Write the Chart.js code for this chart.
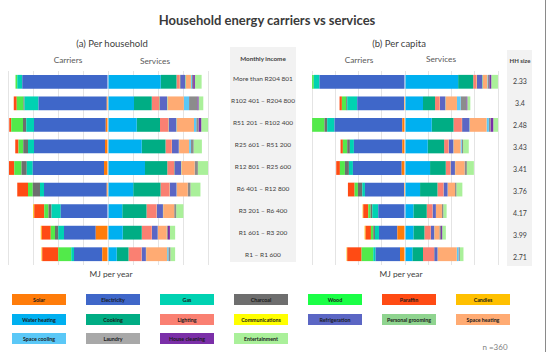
<!DOCTYPE html>
<html>
<head>
<meta charset="utf-8">
<script src="https://cdn.jsdelivr.net/npm/chart.js@4"></script>
<style>
  html, body { margin:0; padding:0; background:#fff; }
  #wrap { position:relative; width:550px; height:356px; overflow:hidden; font-family:Lato, "Open Sans", sans-serif; color:#404040; }
  .t { position:absolute; white-space:nowrap; transform:translate(-50%,-50%); }
  canvas { position:absolute; }
  .box { position:absolute; background:#f2f2f2; }
  .leg { position:absolute; width:54px; height:11px; font-size:5.3px; font-weight:bold; color:#1a1a1a; display:flex; align-items:center; justify-content:center; white-space:nowrap; }
</style>
</head>
<body>
<div id="wrap">
  <div class="t" style="left:267px;top:20px;font-size:13px;font-weight:bold;color:#3a3a3a;">Household energy carriers vs services</div>
  <div class="t" style="left:112px;top:43px;font-size:9.5px;">(a) Per household</div>
  <div class="t" style="left:399px;top:43px;font-size:9.5px;">(b) Per capita</div>
  <div class="t" style="left:68px;top:60px;font-size:8.3px;color:#595959;">Carriers</div>
  <div class="t" style="left:155px;top:61px;font-size:8.3px;color:#595959;">Services</div>
  <div class="t" style="left:359px;top:60px;font-size:8.3px;color:#595959;">Carriers</div>
  <div class="t" style="left:441px;top:59px;font-size:8.3px;color:#595959;">Services</div>
  <div class="box" style="left:230px;top:47px;width:66px;height:215px;"></div>
  <div class="box" style="left:507px;top:50px;width:25px;height:216px;"></div>
  <div class="t" style="left:263px;top:58px;font-size:6.3px;font-weight:bold;">Monthly income</div>
  <div class="t" style="left:520px;top:60px;font-size:6px;font-weight:bold;">HH size</div>
  <div class="t" style="left:111px;top:274px;font-size:8.3px;color:#404040;">MJ per year</div>
  <div class="t" style="left:401px;top:274px;font-size:8.3px;color:#404040;">MJ per year</div>
  <div class="t" style="left:495px;top:347px;font-size:8px;color:#7f7f7f;">n =360</div>
  <div style="position:absolute;left:545px;top:0;width:1px;height:352px;background:#8a8a8a;"></div>
  <div id="incomeCol"></div>
  <div id="hhCol"></div>
  <div id="legend"></div>
  <canvas id="c1" width="204" height="194" style="left:6px;top:71px;width:204px;height:194px;"></canvas>
  <canvas id="c2" width="190" height="194" style="left:310px;top:71px;width:190px;height:194px;"></canvas>
</div>
<script>
// ---- categories ----
const incomeGroups = ["More than R204 801","R102 401 \u2013 R204 800","R51 201 \u2013 R102 400","R25 601 \u2013 R51 200","R12 801 \u2013 R25 600","R6 401 \u2013 R12 800","R3 201 \u2013 R6 400","R1 601 \u2013 R3 200","R1 \u2013 R1 600"];
const hhSize = ["2.33","3.4","2.48","3.43","3.41","3.76","4.17","3.99","2.71"];

const carrierNames = ["Solar","Electricity","Gas","Charcoal","Wood","Paraffin","Candles"];
const carrierColors = ["#ff7c0a","#3f67c9","#00d2b2","#6e6e6e","#52ea4a","#ff4b14","#ffc000"];
const serviceNames = ["Water heating","Cooking","Lighting","Communications","Refrigeration","Personal grooming","Space heating","Space cooling","Laundry","House cleaning","Entertainment"];
const serviceColors = ["#00b0f0","#00ad84","#fa8072","#ffff00","#5b66c4","#8fd48f","#ffab73","#5bc8f7","#8c8c8c","#7b2fa8","#aaf09a"];

// ---- (a) per household, MJ per year ----
const hhSolar       = [0, 500, 900, 1200, 1600, 500, 0, 4900, 2300];
const hhElectricity = [34300, 27300, 28700, 28400, 28500, 25100, 18900, 12700, 11300];
const hhGas         = [2000, 5600, 3100, 2400, 2400, 1600, 3700, 2300, 1100];
const hhCharcoal    = [0, 400, 1300, 1900, 2100, 2900, 1200, 1300, 0];
const hhWood        = [700, 2700, 4700, 1900, 2900, 1900, 1700, 1700, 5200];
const hhParaffin    = [0, 1200, 800, 1300, 2100, 4300, 4000, 3600, 6400];
const hhCandles     = [0, 0, 0, 0, 0, 0, 400, 400, 300];

const hhWaterHeating  = [21100, 10400, 11500, 13500, 14800, 10100, 5700, 5900, 3500];
const hhCooking       = [6300, 7100, 9300, 9500, 8900, 10900, 9700, 7600, 4700];
const hhLighting      = [1300, 2900, 3300, 2500, 2700, 3600, 4000, 4000, 5200];
const hhCommunications= [150, 120, 100, 100, 90, 80, 70, 60, 50];
const hhRefrigeration = [2000, 3100, 3100, 2700, 2700, 2700, 2500, 2300, 1700];
const hhGrooming      = [300, 200, 200, 150, 150, 100, 100, 100, 100];
const hhSpaceHeating  = [2000, 6500, 6900, 4000, 5300, 4400, 4400, 3500, 8400];
const hhSpaceCooling  = [400, 2100, 900, 700, 0, 0, 0, 0, 500];
const hhLaundry       = [500, 3300, 900, 1100, 1300, 1100, 800, 500, 800];
const hhCleaning      = [700, 500, 1100, 0, 0, 0, 0, 800, 0];
const hhEntertainment = [2700, 1900, 2700, 3300, 4300, 4000, 2900, 2100, 1900];

// ---- (b) per capita, MJ per year ----
const pcSolar       = [0, 170, 460, 460, 570, 170, 0, 1320, 860];
const pcElectricity = [14710, 8050, 11670, 8330, 8390, 6720, 4600, 3160, 4200];
const pcGas         = [980, 1720, 1260, 690, 690, 460, 1030, 690, 400];
const pcCharcoal    = [0, 170, 460, 460, 690, 750, 290, 290, 0];
const pcWood        = [290, 750, 2130, 750, 860, 570, 400, 400, 2010];
const pcParaffin    = [0, 400, 290, 400, 630, 1150, 860, 920, 2470];
const pcCandles     = [0, 0, 0, 0, 0, 0, 110, 170, 110];

const pcWaterHeating  = [9140, 3100, 4600, 3910, 4310, 2590, 1440, 1440, 1260];
const pcCooking       = [2590, 2070, 3740, 2820, 2700, 2990, 2300, 1900, 1840];
const pcLighting      = [570, 800, 1440, 750, 800, 1030, 980, 1090, 1900];
const pcCommunications= [60, 40, 40, 30, 30, 20, 20, 20, 20];
const pcRefrigeration = [920, 920, 1260, 800, 750, 690, 570, 570, 570];
const pcGrooming      = [130, 60, 80, 40, 40, 30, 20, 30, 40];
const pcSpaceHeating  = [750, 1950, 2870, 1210, 1610, 1260, 1030, 860, 3280];
const pcSpaceCooling  = [110, 630, 400, 200, 0, 0, 0, 0, 290];
const pcLaundry       = [230, 980, 290, 230, 400, 230, 230, 290, 230];
const pcCleaning      = [340, 170, 460, 0, 0, 0, 0, 200, 0];
const pcEntertainment = [1150, 520, 1150, 980, 1210, 1030, 570, 630, 630];

const hhCarriers = [hhSolar, hhElectricity, hhGas, hhCharcoal, hhWood, hhParaffin, hhCandles];
const hhServices = [hhWaterHeating, hhCooking, hhLighting, hhCommunications, hhRefrigeration, hhGrooming, hhSpaceHeating, hhSpaceCooling, hhLaundry, hhCleaning, hhEntertainment];
const pcCarriers = [pcSolar, pcElectricity, pcGas, pcCharcoal, pcWood, pcParaffin, pcCandles];
const pcServices = [pcWaterHeating, pcCooking, pcLighting, pcCommunications, pcRefrigeration, pcGrooming, pcSpaceHeating, pcSpaceCooling, pcLaundry, pcCleaning, pcEntertainment];

function buildDatasets(carriers, services) {
  const ds = [];
  carriers.forEach((arr, i) => ds.push({ label: carrierNames[i], data: arr.map(v => -v), backgroundColor: carrierColors[i], stack: 's', barPercentage: 0.64, categoryPercentage: 1 }));
  services.forEach((arr, i) => ds.push({ label: serviceNames[i], data: arr.slice(), backgroundColor: serviceColors[i], stack: 's', barPercentage: 0.64, categoryPercentage: 1 }));
  return ds;
}

function makeChart(id, carriers, services, limit, step) {
  return new Chart(document.getElementById(id), {
    type: 'bar',
    data: { labels: incomeGroups, datasets: buildDatasets(carriers, services) },
    options: {
      indexAxis: 'y', responsive: false, animation: false,
      layout: { padding: { left: 2, right: 2, top: 0, bottom: 0 } },
      plugins: { legend: { display: false }, tooltip: { enabled: false } },
      scales: {
        x: { stacked: true, min: -limit, max: limit, ticks: { display: false, stepSize: step }, grid: { color: '#e4e4e4', drawTicks: false }, border: { display: false } },
        y: { stacked: true, display: false }
      }
    }
  });
}
makeChart('c1', hhCarriers, hhServices, 40000, 10000);
makeChart('c2', pcCarriers, pcServices, 16000, 4000);

// side text columns
const incomeCol = document.getElementById('incomeCol');
incomeGroups.forEach((g, i) => {
  const d = document.createElement('div'); d.className = 't';
  d.style.cssText = `left:263px;top:${78 + i * 22}px;font-size:6.5px;color:#404040;`;
  d.textContent = g; incomeCol.appendChild(d);
});
const hhCol = document.getElementById('hhCol');
hhSize.forEach((g, i) => {
  const d = document.createElement('div'); d.className = 't';
  d.style.cssText = `left:520px;top:${80.5 + i * 22}px;font-size:7px;color:#404040;`;
  d.textContent = g; hhCol.appendChild(d);
});

// legend
const legend = document.getElementById('legend');
const allNames = carrierNames.concat(serviceNames);
const allColors = carrierColors.map((c, i) => i === 4 ? '#1aff46' : c).concat(serviceColors.map((c, i) => i === 8 ? '#a8a8a8' : c));
const rowTops = [294, 314, 333];
allNames.forEach((n, i) => {
  const r = Math.floor(i / 7), c = i % 7;
  const d = document.createElement('div'); d.className = 'leg';
  d.style.left = (12 + c * 74) + 'px'; d.style.top = rowTops[r] + 'px';
  d.style.background = allColors[i];
  d.textContent = n; legend.appendChild(d);
});
</script>
</body>
</html>
